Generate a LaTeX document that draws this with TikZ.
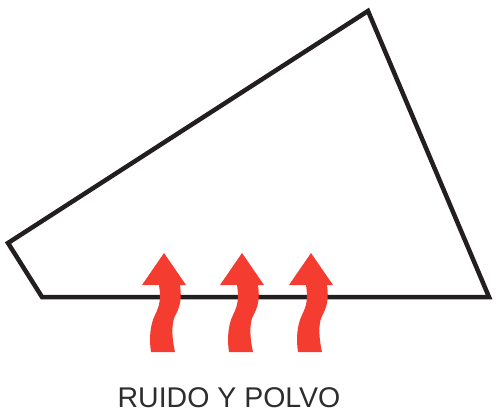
\documentclass[tikz,border=0pt]{standalone}
\usepackage{fontspec}
\setmainfont{Liberation Sans}
\definecolor{heat}{RGB}{245,60,48}
\definecolor{edge}{RGB}{35,31,32}
\definecolor{label}{RGB}{45,45,45}
\tikzset{
  outline/.style={draw=edge,line width=4.5pt,line join=miter},
  wavyarrow/.pic={
    \fill[heat] (0,0) -- (22,32) -- (16,32)
      .. controls (18,46) and (16,54) .. (11,63)
      .. controls (7,71) and (8,86) .. (11,99)
      -- (-13,99)
      .. controls (-15,86) and (-14,72) .. (-9,62)
      .. controls (-4,52) and (-3,45) .. (-5,32)
      -- (-22,32) -- cycle;
  },
  caption/.style={font=\fontsize{28.5}{31}\selectfont,text=label,inner sep=0pt}
}
\begin{document}
\begin{tikzpicture}[x=1pt,y=-1pt]
\useasboundingbox (0,0) rectangle (500,415);
\coordinate (p1) at (8,243);
\coordinate (p2) at (42,297);
\coordinate (p3) at (489,297);
\coordinate (p4) at (368,11);
\draw[outline] (p1) -- (p2) -- (p3) -- (p4) -- cycle;
\pic at (164,253) {wavyarrow};
\pic at (242,253) {wavyarrow};
\pic at (311,253) {wavyarrow};
\node[caption] (lbl) at (229,397.5) {RUIDO Y POLVO};
\end{tikzpicture}
\end{document}
